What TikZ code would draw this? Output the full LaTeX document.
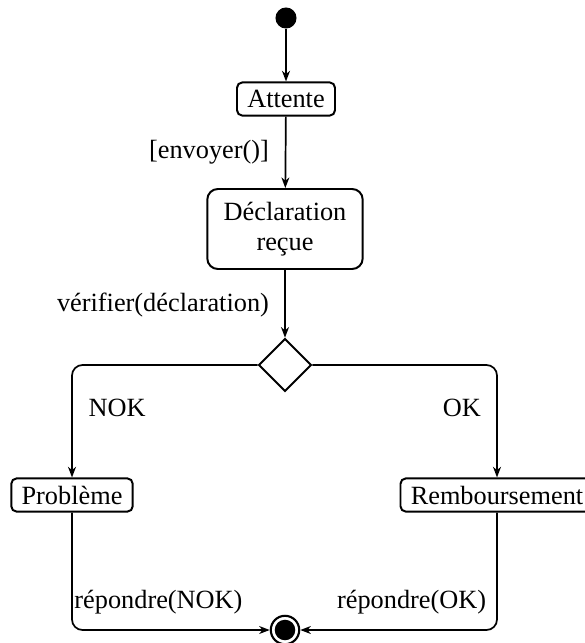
\documentclass[tikz,border=0pt]{standalone}
\usepackage{fontspec}
\setmainfont{Liberation Serif}
\usetikzlibrary{shapes.geometric,arrows.meta}
\begin{document}
\begin{tikzpicture}[x=0.38pt,y=-0.38pt,
  every node/.style={font=\fontsize{10}{11.5}\selectfont},
  state/.style={draw, line width=0.75pt, rounded corners=2pt,
    inner xsep=3.9pt, inner ysep=0pt, minimum height=12.6pt},
  bigstate/.style={state, rounded corners=4pt, align=center,
    inner xsep=6.2pt, minimum height=30.4pt},
  choice/.style={diamond, draw, line width=0.75pt, inner sep=0pt,
    minimum width=20pt, minimum height=20pt},
  startdot/.style={circle, fill, inner sep=0pt, minimum size=8pt},
  enddot/.style={circle, draw, line width=0.8pt, inner sep=0pt, minimum size=10.8pt},
  flow/.style={draw, line width=0.65pt, rounded corners=4pt,
    -{Stealth[length=4pt,width=3pt,inset=1.2pt]}},
  guard/.style={inner sep=0pt}
]
\useasboundingbox (0,0) rectangle (585,643);

% states
\node[startdot] (start) at (286,18) {};
\node[state] (attente) at (286,99) {Attente};
\node[bigstate] (decl) at (285,229) {Déclaration\\reçue};
\node[choice] (check) at (285,365) {};
\node[state] (probleme) at (72,495) {Problème};
\node[state] (rembours) at (497,495) {Remboursement};
\node[enddot] (end) at (285,630) {};
\fill (end.center) circle[radius=3.9pt];

% transitions
\draw[flow] (start) -- (attente);
\draw[flow] (attente) -- node[guard, left=6pt] {[envoyer()]} (decl);
\draw[flow] (decl) -- node[guard, left=5.8pt, pos=0.52] {vérifier(déclaration)} (check);
\draw[flow] (check.west) -| node[guard, right=6pt, pos=0.69] {NOK} (probleme.north);
\draw[flow] (check.east) -| node[guard, left=5.8pt, pos=0.69] {OK} (rembours.north);
\draw[flow] (probleme.south) |- node[guard, right=0.6pt, pos=0.38] {répondre(NOK)} (end.west);
\draw[flow] (rembours.south) |- node[guard, left=3.8pt, pos=0.38] {répondre(OK)} (end.east);
\end{tikzpicture}
\end{document}
